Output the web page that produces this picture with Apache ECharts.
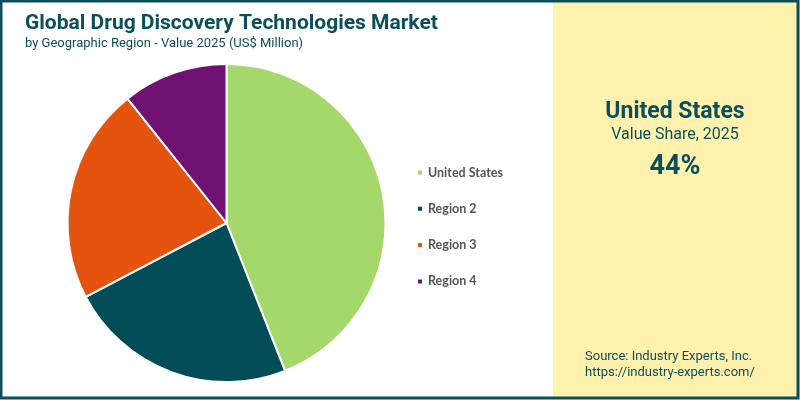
<!DOCTYPE html>
<html><head><meta charset="utf-8">
<script src="https://cdn.jsdelivr.net/npm/echarts@6/dist/echarts.min.js"></script>
<style>html,body{margin:0;padding:0;background:#fff}#c{width:800px;height:400px}</style>
</head><body><div id="c"></div>
<script>
const categories = ['United States', 'Region 2', 'Region 3', 'Region 4'];
const values = [44, 23.3, 22, 10.7];
const colors = ['#A5D86A', '#004D57', '#E5540F', '#6E1170'];
const highlightName = 'United States';
const highlightShare = '44%';

const chart = echarts.init(document.getElementById('c'), null, {renderer: 'canvas'});
const teal = '#0B4F5A';
chart.setOption({
  animation: false,
  title: [
    {text: 'Global Drug Discovery Technologies Market', left: 25, top: 13, padding: 0,
     textStyle: {fontFamily: 'Roboto', fontWeight: 'bold', fontSize: 21, color: teal}},
    {text: 'by Geographic Region - Value 2025 (US$ Million)', left: 25, top: 37, padding: 0,
     textStyle: {fontFamily: 'Roboto', fontWeight: 'normal', fontSize: 13, color: teal}}
  ],
  legend: {
    orient: 'vertical', left: 411, top: 161, itemGap: 23.3, itemWidth: 6, itemHeight: 6,
    icon: 'rect', data: categories,
    textStyle: {fontFamily: 'Lato', fontWeight: 'bold', fontSize: 12.5, color: '#555'}
  },
  graphic: [
    {type: 'rect', shape: {x: 553, y: 0, width: 247, height: 400}, style: {fill: '#FFF2AE'}, z: -1},
    {type: 'rect', shape: {x: 1, y: 1, width: 797, height: 397}, style: {fill: 'none', stroke: teal, lineWidth: 3}, z: 10},
    {type: 'text', x: 675, y: 112, style: {text: highlightName, fill: teal, font: 'bold 23px Roboto', textAlign: 'center', textVerticalAlign: 'middle'}},
    {type: 'text', x: 675, y: 135, style: {text: 'Value Share, 2025', fill: teal, font: '16px Roboto', textAlign: 'center', textVerticalAlign: 'middle'}},
    {type: 'text', x: 675, y: 167, style: {text: highlightShare, fill: teal, font: 'bold 27px Roboto', textAlign: 'center', textVerticalAlign: 'middle'}},
    {type: 'text', x: 585, y: 357, style: {text: 'Source: Industry Experts, Inc.', fill: teal, font: '13px Roboto', textAlign: 'left', textVerticalAlign: 'middle'}},
    {type: 'text', x: 585, y: 373, style: {text: 'https://industry-experts.com/', fill: teal, font: '13px Roboto', textAlign: 'left', textVerticalAlign: 'middle'}}
  ],
  series: [{
    type: 'pie', center: [226.5, 223], radius: 159, startAngle: 90, clockwise: true,
    label: {show: false}, labelLine: {show: false},
    itemStyle: {borderColor: '#fff', borderWidth: 2},
    data: categories.map((n, i) => ({name: n, value: values[i], itemStyle: {color: colors[i]}}))
  }]
});
</script></body></html>
